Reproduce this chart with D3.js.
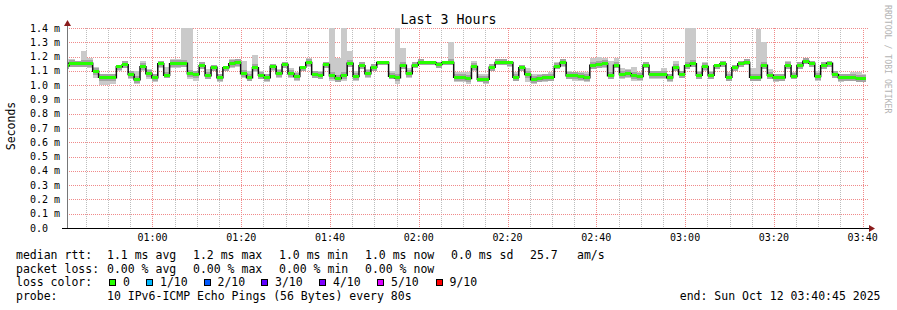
<!DOCTYPE html>
<html lang="en">
<head>
<meta charset="UTF-8" />
<title>Last 3 Hours</title>
<script src="https://cdn.jsdelivr.net/npm/d3@7"></script>
<style>
	body { margin: 0; background: #fff; }
	svg { display: block; font-family: "DejaVu Sans Mono", monospace; }
</style>
</head>
<body>
<script>
var w = 897;
var h = 310;

// time window of the graph (UTC) and rrd step
var startTime = Date.UTC(2025, 9, 12, 0, 40, 45);
var endTime = Date.UTC(2025, 9, 12, 3, 40, 45);
var firstStep = Date.UTC(2025, 9, 12, 0, 39, 52);
var stepSec = 80;

// median rtt per step (ms)
var median = [
	1.135, 1.153, 1.153, 1.153, 1.153, 1.098, 1.056, 1.056, 1.051, 1.128,
	1.142, 1.074, 1.037, 1.128, 1.079, 1.051, 1.149, 1.070, 1.149, 1.153,
	1.153, 1.079, 1.074, 1.135, 1.065, 1.126, 1.051, 1.121, 1.149, 1.158,
	1.079, 1.051, 1.121, 1.070, 1.051, 1.130, 1.079, 1.144, 1.079, 1.060,
	1.126, 1.158, 1.074, 1.070, 1.144, 1.065, 1.047, 1.070, 1.153, 1.060,
	1.135, 1.079, 1.126, 1.158, 1.158, 1.063, 1.051, 1.140, 1.079, 1.140,
	1.158, 1.158, 1.158, 1.144, 1.158, 1.158, 1.056, 1.051, 1.047, 1.130,
	1.042, 1.042, 1.126, 1.158, 1.158, 1.158, 1.056, 1.121, 1.074, 1.037,
	1.047, 1.051, 1.056, 1.130, 1.158, 1.065, 1.065, 1.060, 1.051, 1.140,
	1.144, 1.149, 1.065, 1.140, 1.074, 1.079, 1.065, 1.060, 1.140, 1.074,
	1.074, 1.074, 1.051, 1.126, 1.074, 1.135, 1.149, 1.070, 1.130, 1.070,
	1.135, 1.149, 1.056, 1.121, 1.149, 1.158, 1.056, 1.051, 1.140, 1.070,
	1.051, 1.051, 1.135, 1.060, 1.135, 1.167, 1.153, 1.060, 1.135, 1.153,
	1.074, 1.051, 1.051, 1.051, 1.047, 1.047
];

// smoke: highest and lowest ping of each step (ms)
var smokeHi = [
	1.18, 1.18, 1.17, 1.24, 1.19, 1.13, 1.08, 1.08, 1.08, 1.14,
	1.17, 1.10, 1.10, 1.17, 1.11, 1.08, 1.17, 1.13, 1.18, 1.18,
	1.45, 1.45, 1.10, 1.16, 1.11, 1.14, 1.08, 1.13, 1.18, 1.18,
	1.17, 1.10, 1.21, 1.10, 1.08, 1.15, 1.11, 1.16, 1.12, 1.09,
	1.13, 1.19, 1.10, 1.10, 1.16, 1.45, 1.19, 1.45, 1.24, 1.10,
	1.16, 1.11, 1.15, 1.17, 1.17, 1.10, 1.45, 1.26, 1.12, 1.16,
	1.18, 1.17, 1.17, 1.16, 1.17, 1.30, 1.09, 1.09, 1.09, 1.17,
	1.08, 1.08, 1.15, 1.18, 1.18, 1.17, 1.09, 1.14, 1.12, 1.08,
	1.08, 1.08, 1.09, 1.16, 1.18, 1.10, 1.09, 1.09, 1.09, 1.19,
	1.20, 1.19, 1.17, 1.19, 1.12, 1.11, 1.13, 1.09, 1.16, 1.10,
	1.10, 1.12, 1.08, 1.17, 1.10, 1.45, 1.45, 1.10, 1.16, 1.10,
	1.15, 1.17, 1.09, 1.14, 1.17, 1.18, 1.12, 1.39, 1.30, 1.11,
	1.08, 1.08, 1.17, 1.09, 1.16, 1.19, 1.17, 1.10, 1.16, 1.17,
	1.10, 1.08, 1.08, 1.09, 1.09, 1.08
];
var smokeLo = [
	1.11, 1.13, 1.13, 1.13, 1.12, 1.05, 1.00, 1.00, 1.01, 1.10,
	1.12, 1.04, 1.01, 1.10, 1.04, 1.02, 1.12, 1.05, 1.12, 1.12,
	1.13, 1.04, 1.03, 1.11, 1.04, 1.10, 1.02, 1.10, 1.12, 1.13,
	1.05, 1.03, 1.09, 1.04, 1.02, 1.10, 1.05, 1.12, 1.05, 1.03,
	1.10, 1.13, 1.05, 1.04, 1.12, 1.03, 1.02, 1.03, 1.13, 1.03,
	1.11, 1.05, 1.10, 1.14, 1.14, 1.04, 1.01, 1.11, 1.05, 1.12,
	1.14, 1.14, 1.14, 1.12, 1.14, 1.14, 1.02, 1.02, 1.01, 1.10,
	1.02, 1.01, 1.10, 1.14, 1.14, 1.13, 1.03, 1.10, 1.02, 1.01,
	1.02, 1.02, 1.03, 1.11, 1.13, 1.04, 1.03, 1.03, 1.02, 1.11,
	1.12, 1.12, 1.04, 1.12, 1.04, 1.05, 1.03, 1.03, 1.12, 1.04,
	1.04, 1.04, 1.02, 1.10, 1.05, 1.11, 1.13, 1.04, 1.10, 1.04,
	1.11, 1.13, 1.03, 1.10, 1.13, 1.14, 1.03, 1.03, 1.11, 1.04,
	1.02, 1.03, 1.11, 1.04, 1.11, 1.15, 1.13, 1.03, 1.11, 1.13,
	1.05, 1.02, 1.03, 1.03, 1.02, 1.02
];

var yTicks = [0, 0.1, 0.2, 0.3, 0.4, 0.5, 0.6, 0.7, 0.8, 0.9, 1.0, 1.1, 1.2, 1.3, 1.4];
var yTickLabels = ["0.0", "0.1 m", "0.2 m", "0.3 m", "0.4 m", "0.5 m", "0.6 m", "0.7 m",
	"0.8 m", "0.9 m", "1.0 m", "1.1 m", "1.2 m", "1.3 m", "1.4 m"];

var rttStats = ["1.1 ms avg", "1.2 ms max", "1.0 ms min", "1.0 ms now", "0.0 ms sd"];
var lossStats = ["0.00 % avg", "0.00 % max", "0.00 % min", "0.00 % now"];
var lossLabels = ["0", "1/10", "2/10", "3/10", "4/10", "5/10", "9/10"];
var lossColors = ["#26ff00", "#00b8ff", "#0059ff", "#5e00ff", "#7e00ff", "#dd00ff", "#ff0000"];

var pLeft = 67, pRight = 866, pTop = 28, pBottom = 228;

var x = d3.scaleUtc().domain([startTime, endTime]).range([pLeft, pRight]);
var y = d3.scaleLinear().domain([0, 1.4]).range([pBottom, pTop]);

var svg = d3.select("body").append("svg")
	.attr("width", w)
	.attr("height", h);

svg.append("rect").attr("width", w).attr("height", h).attr("fill", "#fff");

svg.append("defs").append("clipPath").attr("id", "plot")
	.append("rect")
	.attr("x", pLeft).attr("y", pTop)
	.attr("width", pRight - pLeft).attr("height", pBottom - pTop);

// minor vertical grid every 5 minutes
var minorTimes = d3.utcMinute.every(5).range(new Date(startTime), new Date(endTime))
	.filter(function (d) { return d.getUTCMinutes() % 20 != 0; });
svg.append("g").selectAll("line")
	.data(minorTimes)
	.enter().append("line")
	.attr("x1", function (d) { return Math.round(x(d)) + 0.5; })
	.attr("x2", function (d) { return Math.round(x(d)) + 0.5; })
	.attr("y1", pTop).attr("y2", pBottom)
	.attr("stroke", "#bdbdbd")
	.attr("stroke-dasharray", "1,1");

// major grid
var majorTimes = x.ticks(d3.utcMinute.every(20));
svg.append("g").selectAll("line")
	.data(majorTimes)
	.enter().append("line")
	.attr("x1", function (d) { return Math.round(x(d)) + 0.5; })
	.attr("x2", function (d) { return Math.round(x(d)) + 0.5; })
	.attr("y1", pTop).attr("y2", pBottom)
	.attr("stroke", "#f08a8a")
	.attr("stroke-dasharray", "1,1");

svg.append("g").selectAll("line")
	.data(yTicks.slice(1))
	.enter().append("line")
	.attr("x1", pLeft).attr("x2", pRight + 3)
	.attr("y1", function (d) { return Math.round(y(d)) + 0.5; })
	.attr("y2", function (d) { return Math.round(y(d)) + 0.5; })
	.attr("stroke", "#f08a8a")
	.attr("stroke-dasharray", "1,1");

// steps
var steps = median.map(function (v, i) {
	return {
		t0: firstStep + i * stepSec * 1000,
		t1: firstStep + (i + 1) * stepSec * 1000,
		v: v, hi: smokeHi[i], lo: smokeLo[i]
	};
});

var plot = svg.append("g").attr("clip-path", "url(#plot)");

plot.selectAll("rect.smoke")
	.data(steps)
	.enter().append("rect")
	.attr("class", "smoke")
	.attr("x", function (d) { return x(d.t0); })
	.attr("width", function (d) { return x(d.t1) - x(d.t0); })
	.attr("y", function (d) { return y(d.hi); })
	.attr("height", function (d) { return y(d.lo) - y(d.hi); })
	.attr("fill", "#cacaca")
	.attr("shape-rendering", "crispEdges");

plot.selectAll("rect.smoke2")
	.data(steps)
	.enter().append("rect")
	.attr("class", "smoke2")
	.attr("x", function (d) { return x(d.t0); })
	.attr("width", function (d) { return x(d.t1) - x(d.t0); })
	.attr("y", function (d) { return Math.max(y(d.hi), y(d.v) - 3.5); })
	.attr("height", function (d) { return Math.min(y(d.lo), y(d.v) + 3.5) - Math.max(y(d.hi), y(d.v) - 3.5); })
	.attr("fill", "#a3a3a3")
	.attr("shape-rendering", "crispEdges");

var linePts = steps.map(function (d) { return [d.t0, d.v]; });
linePts.push([steps[steps.length - 1].t1, steps[steps.length - 1].v]);

plot.append("path")
	.datum(linePts)
	.attr("fill", "none")
	.attr("stroke", "#111")
	.attr("stroke-width", 1.5)
	.attr("d", d3.line()
		.x(function (d) { return x(d[0]); })
		.y(function (d) { return y(d[1]); })
		.curve(d3.curveStepAfter));

plot.selectAll("rect.med")
	.data(steps)
	.enter().append("rect")
	.attr("class", "med")
	.attr("x", function (d) { return x(d.t0); })
	.attr("width", function (d) { return x(d.t1) - x(d.t0); })
	.attr("y", function (d) { return y(d.v) - 1.5; })
	.attr("height", 3)
	.attr("fill", lossColors[0])
	.attr("shape-rendering", "crispEdges");

// axes
svg.append("line")
	.attr("x1", pLeft + 0.5).attr("x2", pLeft + 0.5)
	.attr("y1", pBottom).attr("y2", pTop - 4)
	.attr("stroke", "#777");
svg.append("path")
	.attr("d", "M" + (pLeft + 0.5) + "," + (pTop - 8) + "l3.5,6h-7z")
	.attr("fill", "#8b1c1c");
svg.append("line")
	.attr("x1", pLeft - 5).attr("x2", pRight + 3)
	.attr("y1", pBottom + 0.5).attr("y2", pBottom + 0.5)
	.attr("stroke", "#000");
svg.append("path")
	.attr("d", "M" + (pRight + 9) + "," + (pBottom + 0.5) + "l-6,-3.5v7z")
	.attr("fill", "#8b1c1c");

// tick labels
svg.append("g").selectAll("text")
	.data(yTicks)
	.enter().append("text")
	.attr("x", 30)
	.attr("y", function (d) { return y(d) + 3.5; })
	.attr("font-size", "10px")
	.attr("fill", "#000")
	.text(function (d, i) { return yTickLabels[i]; });

svg.append("g").selectAll("text")
	.data(majorTimes)
	.enter().append("text")
	.attr("x", function (d) { return x(d); })
	.attr("y", 241)
	.attr("text-anchor", "middle")
	.attr("font-size", "10px")
	.text(d3.utcFormat("%H:%M"));

// titles
svg.append("text")
	.attr("x", 448.5).attr("y", 24)
	.attr("text-anchor", "middle")
	.attr("font-size", "13.3px")
	.text("Last 3 Hours");

svg.append("text")
	.attr("transform", "translate(15,126) rotate(-90)")
	.attr("text-anchor", "middle")
	.attr("font-size", "11.5px")
	.text("Seconds");

svg.append("text")
	.attr("transform", "translate(885,5) rotate(90)")
	.attr("font-size", "8.2px")
	.attr("fill", "#b4b4b4")
	.text("RRDTOOL / TOBI OETIKER");

// legend
var legend = svg.append("g").attr("font-size", "11.5px").attr("fill", "#000");
var colX = [107, 193, 279, 365, 451];

legend.append("text").attr("x", 16).attr("y", 259).text("median rtt:");
legend.selectAll("text.rtt")
	.data(rttStats)
	.enter().append("text")
	.attr("class", "rtt")
	.attr("x", function (d, i) { return colX[i]; })
	.attr("y", 259)
	.text(function (d) { return d; });
legend.append("text").attr("x", 530).attr("y", 259).text("25.7");
legend.append("text").attr("x", 577).attr("y", 259).text("am/s");

legend.append("text").attr("x", 16).attr("y", 272.5).text("packet loss:");
legend.selectAll("text.loss")
	.data(lossStats)
	.enter().append("text")
	.attr("class", "loss")
	.attr("x", function (d, i) { return colX[i]; })
	.attr("y", 272.5)
	.text(function (d) { return d; });

legend.append("text").attr("x", 16).attr("y", 286).text("loss color:");
var boxX = [109, 146, 203.5, 261, 319, 377, 435.5];
legend.selectAll("rect.lc")
	.data(lossColors)
	.enter().append("rect")
	.attr("class", "lc")
	.attr("x", function (d, i) { return Math.round(boxX[i]) + 0.5; })
	.attr("y", 279.5)
	.attr("width", 6).attr("height", 6)
	.attr("fill", function (d) { return d; })
	.attr("stroke", "#000");
legend.selectAll("text.lcl")
	.data(lossLabels)
	.enter().append("text")
	.attr("class", "lcl")
	.attr("x", function (d, i) { return boxX[i] + 14; })
	.attr("y", 286)
	.text(function (d) { return d; });

legend.append("text").attr("x", 16).attr("y", 299.5).text("probe:");
legend.append("text").attr("x", 107).attr("y", 299.5)
	.text("10 IPv6-ICMP Echo Pings (56 Bytes) every 80s");
legend.append("text").attr("x", 880.5).attr("y", 299.5)
	.attr("text-anchor", "end")
	.text("end: Sun Oct 12 03:40:45 2025");
</script>
</body>
</html>
